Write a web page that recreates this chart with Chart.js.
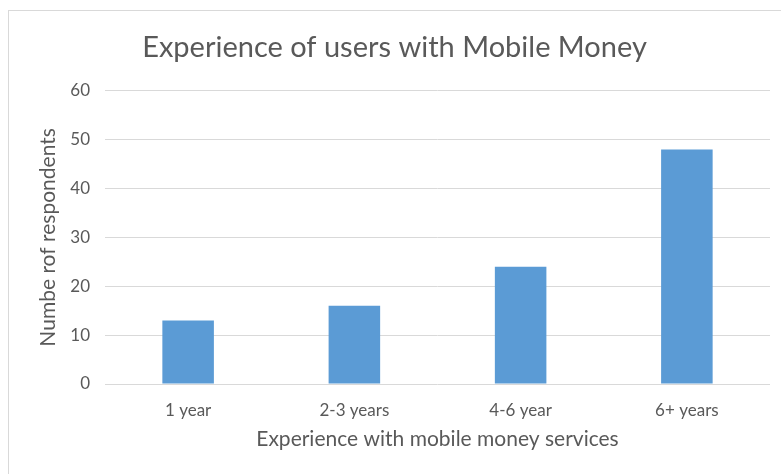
<!DOCTYPE html>
<html>
<head>
<meta charset="utf-8">
<script src="https://cdn.jsdelivr.net/npm/chart.js"></script>
<style>
  html, body { margin: 0; padding: 0; background: #fff; }
  #wrap { position: relative; width: 781px; height: 474px; overflow: hidden; }
  #frame { position: absolute; left: 8px; top: 10px; width: 800px; height: 500px; border: 1px solid #d9d9d9; }
  #experienceChart { position: absolute; left: 0; top: 0; }
</style>
</head>
<body>
<div id="wrap">
  <div id="frame"></div>
  <canvas id="experienceChart" width="781" height="474"></canvas>
</div>
<script>
const experienceLabels = ["1 year", "2-3 years", "4-6 year", "6+ years"];
const respondentCounts = [13, 16, 24, 48];
const yTickValues = [0, 10, 20, 30, 40, 50, 60];

const textGray = "#595959";
const gridGray = "#d9d9d9";
const fontFamily = "Lato, 'Open Sans', sans-serif";

const ctx = document.getElementById("experienceChart").getContext("2d");

new Chart(ctx, {
  type: "bar",
  data: {
    labels: experienceLabels,
    datasets: [{
      label: "Respondents",
      data: respondentCounts,
      backgroundColor: "#5b9bd5",
      borderWidth: 0,
      barPercentage: 0.31,
      categoryPercentage: 1.0
    }]
  },
  options: {
    responsive: false,
    animation: false,
    events: [],
    layout: {
      padding: { left: 19, right: 11, top: 0, bottom: 0 }
    },
    plugins: {
      legend: { display: false },
      tooltip: { enabled: false },
      title: {
        display: true,
        text: "Experience of users with Mobile Money",
        color: textGray,
        font: { family: fontFamily, size: 29, weight: "normal" },
        padding: { top: 30, bottom: 26 }
      }
    },
    scales: {
      x: {
        grid: { display: false },
        border: { display: false },
        ticks: {
          color: textGray,
          font: { family: fontFamily, size: 17 },
          padding: 8
        },
        title: {
          display: true,
          text: "Experience with mobile money services",
          color: textGray,
          font: { family: fontFamily, size: 21 },
          padding: { top: 0, bottom: 22 }
        },
        afterFit: scale => { scale.height = 90; }
      },
      y: {
        min: yTickValues[0],
        max: yTickValues[yTickValues.length - 1],
        grid: { color: gridGray, lineWidth: 1, drawTicks: false },
        border: { display: false },
        afterBuildTicks: scale => {
          scale.ticks = yTickValues.map(v => ({ value: v }));
        },
        ticks: {
          color: textGray,
          font: { family: fontFamily, size: 17 },
          padding: 15
        },
        title: {
          display: true,
          text: "Numbe rof respondents",
          color: textGray,
          font: { family: fontFamily, size: 21 },
          padding: { top: 17, bottom: 0 }
        },
        afterFit: scale => { scale.width = 86; }
      }
    }
  }
});
</script>
</body>
</html>
